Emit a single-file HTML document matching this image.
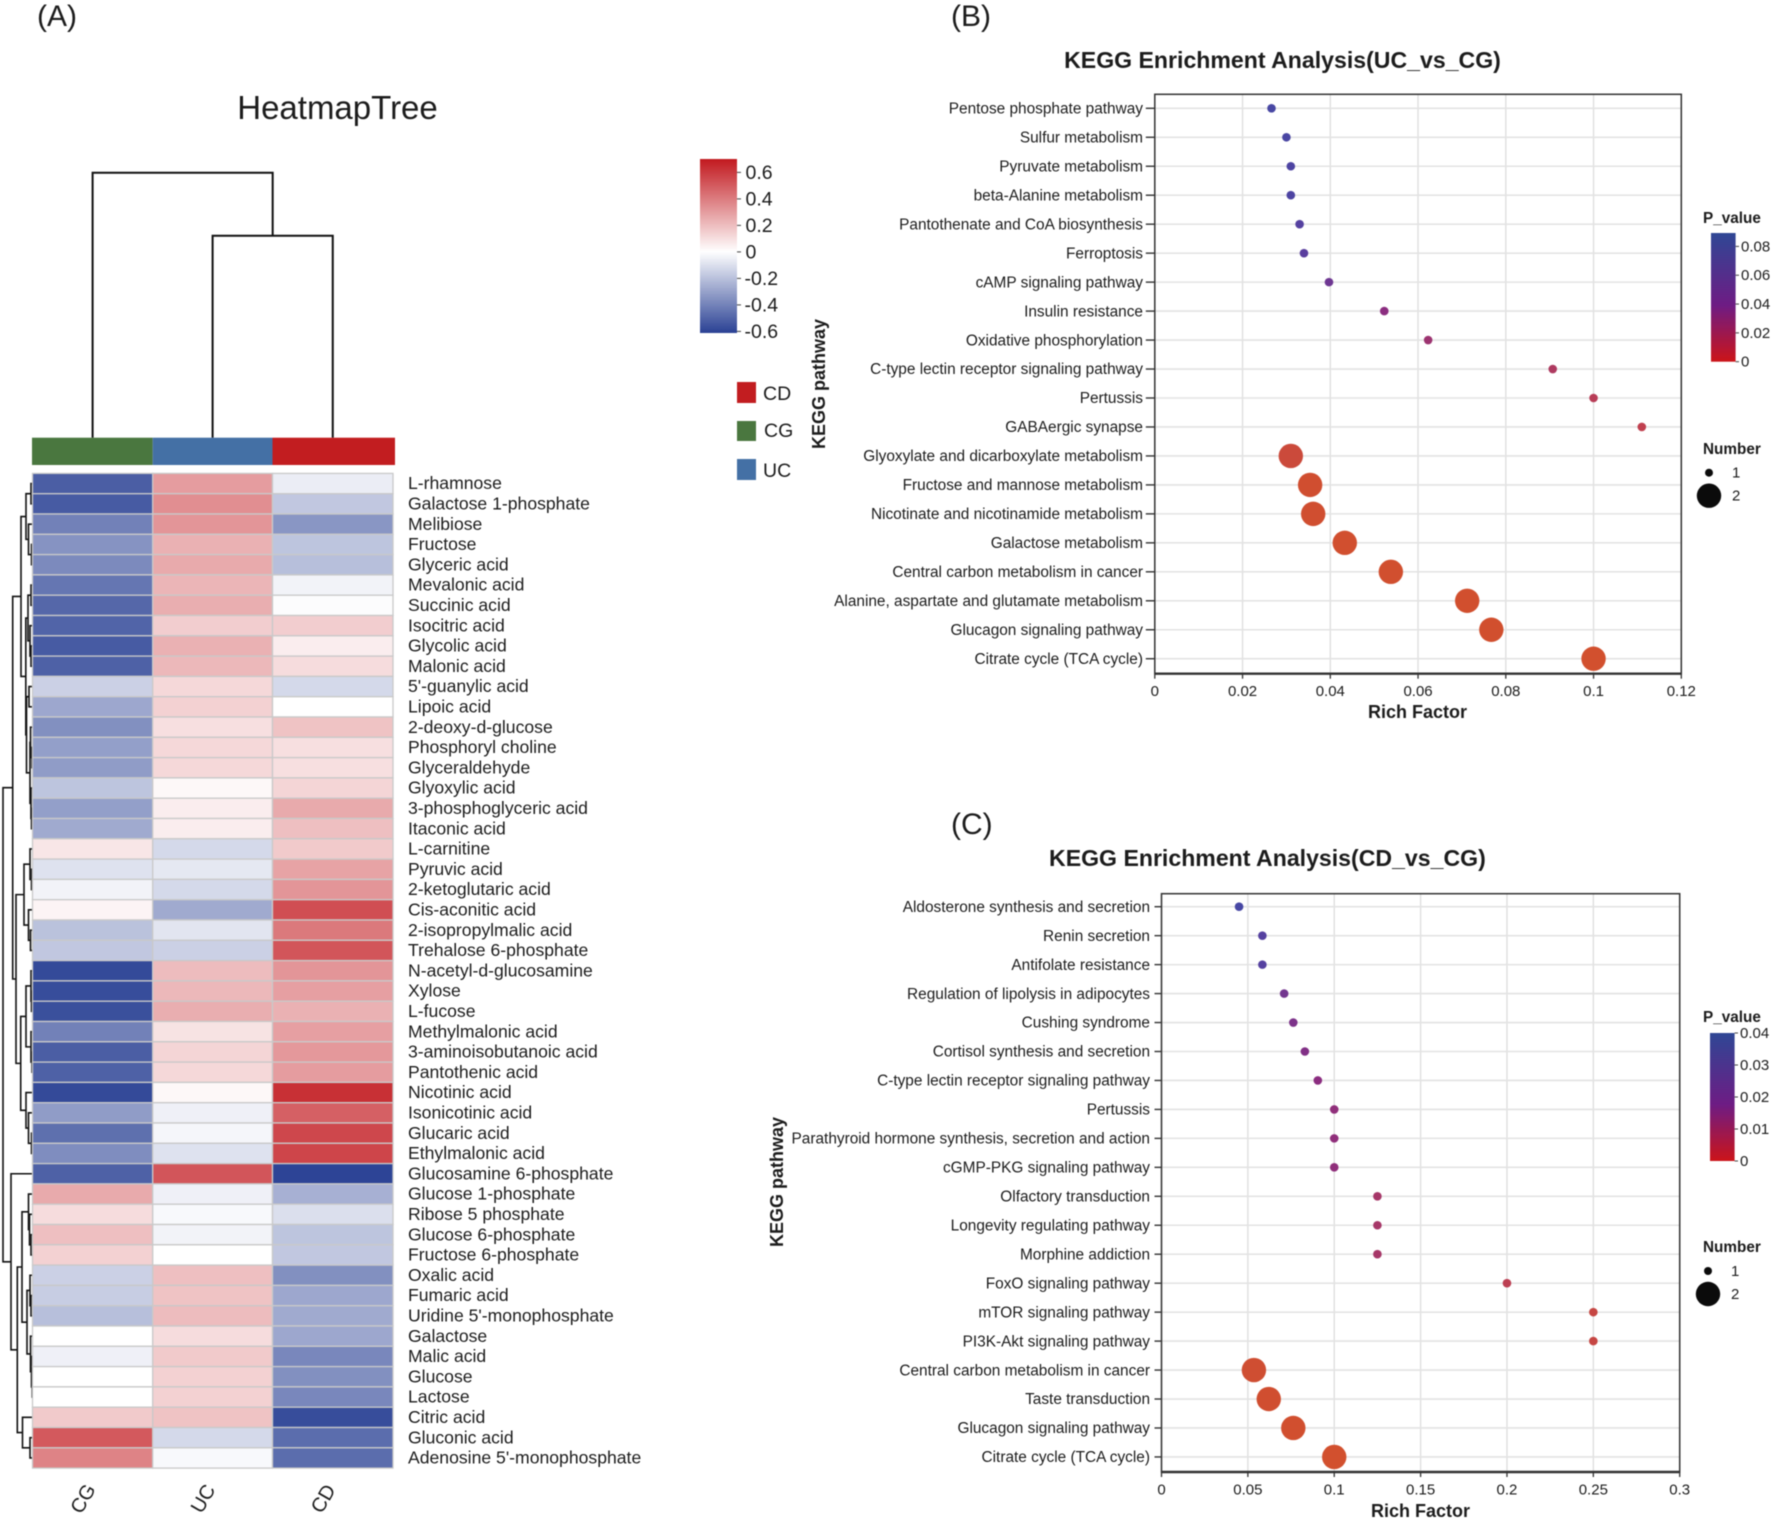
<!DOCTYPE html>
<html lang="en">
<head>
<meta charset="utf-8">
<title>Metabolite heatmap and KEGG enrichment analysis</title>
<style>
  html, body { margin: 0; padding: 0; background: #ffffff; }
  body { width: 1772px; height: 1520px; overflow: hidden; }
  svg { display: block; font-family: "Liberation Sans", Arial, sans-serif; fill: #1c1c1c; filter: blur(0.45px); }
  text { white-space: pre; }
</style>
</head>
<body>
<svg id="figure" xmlns="http://www.w3.org/2000/svg" width="1772" height="1520" viewBox="0 0 1772 1520">
  <defs>
    <linearGradient id="heat-gradient" x1="0" y1="0" x2="0" y2="1">
      <stop offset="0" stop-color="#c2191f"/>
      <stop offset="0.533" stop-color="#ffffff"/>
      <stop offset="1" stop-color="#2a4194"/>
    </linearGradient>
    <linearGradient id="p-gradient" x1="0" y1="0" x2="0" y2="1">
      <stop offset="0" stop-color="#2f4795"/>
      <stop offset="0.56" stop-color="#6e1c84"/>
      <stop offset="1" stop-color="#cc1419"/>
    </linearGradient>
  </defs>

  <text x="37" y="26" font-size="30">(A)</text>
  <text x="951" y="26" font-size="30">(B)</text>
  <text x="951" y="834" font-size="30">(C)</text>

  <text x="337.5" y="119" font-size="33" text-anchor="middle">HeatmapTree</text>
  <g id="heatmap"></g>

  <rect x="700" y="159" width="37" height="174" fill="url(#heat-gradient)"/>
  <g id="heat-colorbar-ticks"></g>

  <g font-size="19.5">
    <rect x="737" y="382" width="19" height="21" fill="#c21d20"/>
    <text x="763" y="400">CD</text>
    <rect x="737" y="421" width="19" height="20" fill="#4a773f"/>
    <text x="764" y="437">CG</text>
    <rect x="737" y="459" width="19" height="21" fill="#4470a5"/>
    <text x="763" y="477">UC</text>
  </g>

  <g id="plot-b"></g>
  <g id="plot-c"></g>
</svg>

<script>
// ---------- Panel A data ----------
const heatColumns = ["CG", "UC", "CD"];
const heatRows = ["L-rhamnose","Galactose 1-phosphate","Melibiose","Fructose","Glyceric acid","Mevalonic acid","Succinic acid","Isocitric acid","Glycolic acid","Malonic acid","5'-guanylic acid","Lipoic acid","2-deoxy-d-glucose","Phosphoryl choline","Glyceraldehyde","Glyoxylic acid","3-phosphoglyceric acid","Itaconic acid","L-carnitine","Pyruvic acid","2-ketoglutaric acid","Cis-aconitic acid","2-isopropylmalic acid","Trehalose 6-phosphate","N-acetyl-d-glucosamine","Xylose","L-fucose","Methylmalonic acid","3-aminoisobutanoic acid","Pantothenic acid","Nicotinic acid","Isonicotinic acid","Glucaric acid","Ethylmalonic acid","Glucosamine 6-phosphate","Glucose 1-phosphate","Ribose 5 phosphate","Glucose 6-phosphate","Fructose 6-phosphate","Oxalic acid","Fumaric acid","Uridine 5'-monophosphate","Galactose","Malic acid","Glucose","Lactose","Citric acid","Gluconic acid","Adenosine 5'-monophosphate"];
const valuesCG = [-0.55,-0.56,-0.43,-0.37,-0.40,-0.47,-0.52,-0.53,-0.56,-0.54,-0.16,-0.30,-0.38,-0.33,-0.34,-0.20,-0.33,-0.29,0.07,-0.10,-0.04,0.03,-0.21,-0.19,-0.62,-0.61,-0.60,-0.43,-0.55,-0.54,-0.62,-0.34,-0.49,-0.39,-0.54,0.24,0.10,0.18,0.13,-0.16,-0.17,-0.22,0,-0.05,0,0,0.15,0.47,0.35];
const valuesUC = [0.28,0.32,0.30,0.22,0.24,0.21,0.23,0.14,0.22,0.20,0.11,0.13,0.09,0.11,0.11,0.02,0.05,0.05,-0.13,-0.08,-0.13,-0.29,-0.09,-0.16,0.19,0.20,0.23,0.08,0.12,0.11,0.02,-0.05,-0.03,-0.10,0.48,-0.05,-0.02,-0.04,0,0.18,0.17,0.19,0.10,0.15,0.13,0.13,0.17,-0.13,-0.02];
const valuesCD = [-0.06,-0.19,-0.36,-0.20,-0.22,-0.04,-0.01,0.14,0.05,0.10,-0.13,0,0.17,0.09,0.09,0.12,0.24,0.18,0.15,0.26,0.30,0.50,0.38,0.48,0.30,0.27,0.22,0.27,0.29,0.28,0.585,0.45,0.52,0.525,-0.64,-0.27,-0.11,-0.20,-0.19,-0.38,-0.30,-0.29,-0.30,-0.41,-0.38,-0.41,-0.61,-0.50,-0.50];
const heatTickLabels = ["0.6","0.4","0.2","0","-0.2","-0.4","-0.6"];
const heatTickValues = [0.6,0.4,0.2,0,-0.2,-0.4,-0.6];
const groupColors = ["#4a773f","#4470a5","#c21d20"];
const columnTree = [265, 0, [202, 0, 0]];
const rowTree = [29.5,
  [19.8,
    [11.5,
      [6.5,[1.5,0,0],[4,0,[1,0,0]]],
      [6.7,
        [4.5,[1.5,0,0],[2.5,0,[1.5,0,0]]],
        [6,[3.5,0,0],[2.5,[2,0,[0.5,0,0]],[1.5,0,[1,0,0]]]]
      ]
    ],
    [16.5,
      [8.5,[2.5,0,[1,0,0]],[4,0,[2,0,0]]],
      [11.8,
        [6.5,[1.5,0,[1,0,0]],[1.5,0,[0.5,0,0]]],
        [6.5,0,[4,0,[1,0,0]]]
      ]
    ]
  ],
  [21.5,0,
    [15.2,
      [10.5,
        [4,0,[3,0,[1.5,0,0]]],
        [5.5,[2.5,0,[1.5,0,0]],[2,0,[1,0,[0.3,0,0]]]]
      ],
      [10,0,[2.5,0,0]]
    ]
  ]
];

// ---------- Panel B data ----------
const pathwaysB = ["Pentose phosphate pathway","Sulfur metabolism","Pyruvate metabolism","beta-Alanine metabolism","Pantothenate and CoA biosynthesis","Ferroptosis","cAMP signaling pathway","Insulin resistance","Oxidative phosphorylation","C-type lectin receptor signaling pathway","Pertussis","GABAergic synapse","Glyoxylate and dicarboxylate metabolism","Fructose and mannose metabolism","Nicotinate and nicotinamide metabolism","Galactose metabolism","Central carbon metabolism in cancer","Alanine, aspartate and glutamate metabolism","Glucagon signaling pathway","Citrate cycle (TCA cycle)"];
const richB = [0.0266,0.030,0.031,0.031,0.033,0.034,0.0397,0.0523,0.0623,0.0907,0.1,0.111,0.031,0.0354,0.0361,0.0433,0.0538,0.0712,0.0767,0.1];
const pValuesB = [0.082,0.080,0.078,0.078,0.0714,0.067,0.058,0.0447,0.036,0.027,0.022,0.018,0.0071,0.0018,0.0018,0.001,0.001,0.0006,0.0006,0.0004];
const numbersB = [1,1,1,1,1,1,1,1,1,1,1,1,2,2,2,2,2,2,2,2];
const xTicksB = [0,0.02,0.04,0.06,0.08,0.1,0.12];
const xTickLabelsB = ["0","0.02","0.04","0.06","0.08","0.1","0.12"];
const pTicksB = [0.08,0.06,0.04,0.02,0];
const pTickLabelsB = ["0.08","0.06","0.04","0.02","0"];

// ---------- Panel C data ----------
const pathwaysC = ["Aldosterone synthesis and secretion","Renin secretion","Antifolate resistance","Regulation of lipolysis in adipocytes","Cushing syndrome","Cortisol synthesis and secretion","C-type lectin receptor signaling pathway","Pertussis","Parathyroid hormone synthesis, secretion and action","cGMP-PKG signaling pathway","Olfactory transduction","Longevity regulating pathway","Morphine addiction","FoxO signaling pathway","mTOR signaling pathway","PI3K-Akt signaling pathway","Central carbon metabolism in cancer","Taste transduction","Glucagon signaling pathway","Citrate cycle (TCA cycle)"];
const richC = [0.0449,0.0584,0.0584,0.071,0.0763,0.083,0.0905,0.1,0.1,0.1,0.125,0.125,0.125,0.2,0.25,0.25,0.0535,0.0621,0.0763,0.1];
const pValuesC = [0.037,0.032,0.032,0.025,0.023,0.022,0.02,0.0188,0.0188,0.0188,0.014,0.014,0.014,0.0088,0.0052,0.0052,0.0012,0.0008,0.0004,0.0002];
const numbersC = [1,1,1,1,1,1,1,1,1,1,1,1,1,1,1,1,2,2,2,2];
const xTicksC = [0,0.05,0.1,0.15,0.2,0.25,0.3];
const xTickLabelsC = ["0","0.05","0.1","0.15","0.2","0.25","0.3"];
const pTicksC = [0.04,0.03,0.02,0.01,0];
const pTickLabelsC = ["0.04","0.03","0.02","0.01","0"];

// ---------- Helpers ----------
const NS = "http://www.w3.org/2000/svg";
function svgEl(tag, attrs, parent, content) {
  const el = document.createElementNS(NS, tag);
  for (const k in attrs) el.setAttribute(k, attrs[k]);
  if (content !== undefined) el.textContent = content;
  parent.appendChild(el);
  return el;
}
function slug(s) {
  return String(s).toLowerCase().replace(/[^a-z0-9]+/g, "-").replace(/^-|-$/g, "");
}
function hexRgb(h) {
  return [parseInt(h.slice(1,3),16), parseInt(h.slice(3,5),16), parseInt(h.slice(5,7),16)];
}
function mix(a, b, t) {
  const A = hexRgb(a), B = hexRgb(b);
  return "rgb(" + A.map((v, i) => Math.round(v + (B[i] - v) * t)).join(",") + ")";
}
function heatColor(v) {
  const t = Math.min(1, Math.abs(v) / 0.65);
  return mix("#ffffff", v >= 0 ? "#c2191f" : "#2a4194", t);
}
const dotStopsPos = [0, 0.2, 0.5, 0.75, 1];
const dotStopsCol = ["#d2502d", "#c0404f", "#8b2d80", "#5a3e9e", "#3f4ba6"];
function dotColor(n) {
  const c = Math.max(0, Math.min(1, n));
  for (let i = 1; i < dotStopsPos.length; i++) {
    if (c <= dotStopsPos[i]) {
      return mix(dotStopsCol[i-1], dotStopsCol[i], (c - dotStopsPos[i-1]) / (dotStopsPos[i] - dotStopsPos[i-1]));
    }
  }
  return dotStopsCol[dotStopsCol.length - 1];
}

// ---------- Panel A ----------
const heatG = document.getElementById("heatmap");
const heatTop = 473.4, rowH = 20.3;
const colEdges = [32.5, 152.7, 272.5, 393];
const heatValues = [valuesCG, valuesUC, valuesCD];
const colX = i => (colEdges[i] + colEdges[i + 1]) / 2;
const rowY = i => heatTop + rowH * (i + 0.5);

// column dendrogram
const colBase = 437.7;
function drawColTree(node, counter, g) {
  if (!Array.isArray(node)) { const i = counter.i++; return { x: colX(i), y: colBase }; }
  const a = drawColTree(node[1], counter, g), b = drawColTree(node[2], counter, g);
  const y = colBase - node[0];
  const branch = svgEl("path", { d: `M${a.x} ${a.y}V${y}H${b.x}V${b.y}`, fill: "none", stroke: "#111", "stroke-width": 2 }, g);
  
  
  return { x: (a.x + b.x) / 2, y: y };
}
const colTreeG = svgEl("g", {}, heatG);


drawColTree(columnTree, { i: 0 }, colTreeG);

// annotation bar
const annEdges = [32, 152.7, 272.5, 395];
heatColumns.forEach((name, i) => {
  const ann = svgEl("rect", { x: annEdges[i], y: 437.7, width: annEdges[i + 1] - annEdges[i], height: 27.3, fill: groupColors[i] }, heatG);
  
  
});

// row dendrogram
const treeLeafX = 32.5;
function drawRowTree(node, counter, g) {
  if (!Array.isArray(node)) { const i = counter.i++; return { x: treeLeafX, y: rowY(i) }; }
  const a = drawRowTree(node[1], counter, g), b = drawRowTree(node[2], counter, g);
  const x = treeLeafX - node[0];
  const branch = svgEl("path", { d: `M${a.x} ${a.y}H${x}V${b.y}H${b.x}`, fill: "none", stroke: "#111", "stroke-width": 1.6 }, g);
  
  
  return { x: x, y: (a.y + b.y) / 2 };
}
const rowTreeG = svgEl("g", {}, heatG);


drawRowTree(rowTree, { i: 0 }, rowTreeG);

// cells and labels
heatRows.forEach((label, r) => {
  heatColumns.forEach((col, c) => {
    const cell = svgEl("rect", {
      x: colEdges[c], y: heatTop + rowH * r, width: colEdges[c + 1] - colEdges[c], height: rowH,
      fill: heatColor(heatValues[c][r]), stroke: "#c9c9c9", "stroke-width": 1.3
    }, heatG);
    
    
  });
  const t = svgEl("text", { x: 408, y: rowY(r) + 5.6, "font-size": 17.6 }, heatG, label);
  
  
});
heatColumns.forEach((col, c) => {
  const cx = colX(c) - 9, cy = 1499;
  const t = svgEl("text", { x: cx, y: cy, "font-size": 20, "text-anchor": "middle", "dominant-baseline": "central", transform: `rotate(-60 ${cx} ${cy})` }, heatG, col);
  
  
});

// heat colorbar ticks
const heatTickG = document.getElementById("heat-colorbar-ticks");
const heatScaleY = v => 251.9 - v * 132.5;
heatTickValues.forEach((v, i) => {
  const y = heatScaleY(v);
  const tick = svgEl("line", { x1: 737, x2: 741, y1: y, y2: y, stroke: "#444", "stroke-width": 1 }, heatTickG);
  
  
  const t = svgEl("text", { x: v < 0 ? 744.5 : 745.5, y: y + 6.5, "font-size": 19.5 }, heatTickG, heatTickLabels[i]);
  
  
});

// ---------- Bubble plots ----------
function drawBubble(cfg) {
  const g = document.getElementById(cfg.id);
  const xs = v => cfg.left + (v / cfg.xMax) * (cfg.right - cfg.left);
  const ys = i => cfg.firstY + i * cfg.stepY;

  const title = svgEl("text", { x: cfg.titleX, y: cfg.titleY, "font-size": 23.1, "font-weight": "bold", "text-anchor": "middle" }, g, cfg.title);
  
  

  cfg.xTicks.forEach((v, i) => {
    const grid = svgEl("line", { x1: xs(v), x2: xs(v), y1: cfg.top, y2: cfg.bottom, stroke: "#dfdfdf", "stroke-width": 1.4 }, g);
    
    
  });
  cfg.pathways.forEach((name, i) => {
    const grid = svgEl("line", { x1: cfg.left, x2: cfg.right, y1: ys(i), y2: ys(i), stroke: "#e3e3e3", "stroke-width": 1.6 }, g);
    
    
    const tick = svgEl("line", { x1: cfg.left - cfg.tickLen, x2: cfg.left, y1: ys(i), y2: ys(i), stroke: "#333", "stroke-width": 1.4 }, g);
    
    
    const label = svgEl("text", { x: cfg.labelX, y: ys(i) + 5.2, "font-size": 15.4, "text-anchor": "end" }, g, name);
    
    
  });

  const frame = svgEl("rect", { x: cfg.left, y: cfg.top, width: cfg.right - cfg.left, height: cfg.bottom - cfg.top, fill: "none", stroke: "#333", "stroke-width": 1.5 }, g);
  
  
  const axis = svgEl("line", { x1: cfg.left, x2: cfg.right, y1: cfg.bottom, y2: cfg.bottom, stroke: "#333", "stroke-width": 2.4 }, g);
  
  

  cfg.xTicks.forEach((v, i) => {
    const tick = svgEl("line", { x1: xs(v), x2: xs(v), y1: cfg.bottom, y2: cfg.bottom + 5, stroke: "#333", "stroke-width": 1.3 }, g);
    
    
    const label = svgEl("text", { x: xs(v), y: cfg.xLabelY, "font-size": 15, "text-anchor": "middle" }, g, cfg.xTickLabels[i]);
    
    
  });

  cfg.pathways.forEach((name, i) => {
    const big = cfg.numbers[i] >= 2;
    const dot = svgEl("circle", {
      cx: xs(cfg.rich[i]), cy: ys(i), r: big ? 12.2 : 4.3,
      fill: dotColor(cfg.pValues[i] / cfg.pMax)
    }, g);
    
    
  });

  const xTitle = svgEl("text", { x: cfg.xTitleX, y: cfg.xTitleY, "font-size": 18, "font-weight": "bold", "text-anchor": "middle" }, g, "Rich Factor");
  
  
  const yTitle = svgEl("text", { x: cfg.yTitleX, y: cfg.yTitleY, "font-size": 18, "font-weight": "bold", "text-anchor": "middle", transform: `rotate(-90 ${cfg.yTitleX} ${cfg.yTitleY})` }, g, "KEGG pathway");
  
  

  // p-value legend
  const pTitle = svgEl("text", { x: cfg.legendX, y: cfg.pTitleY, "font-size": 15.3, "font-weight": "bold" }, g, "P_value");
  
  
  const bar = svgEl("rect", { x: cfg.barX, y: cfg.barTop, width: 24.6, height: cfg.barBottom - cfg.barTop, fill: "url(#p-gradient)" }, g);
  
  
  cfg.pTicks.forEach((v, i) => {
    const y = cfg.barBottom - (v / cfg.pMax) * (cfg.barBottom - cfg.barTop);
    const tick = svgEl("line", { x1: cfg.barX + 24.6, x2: cfg.barX + 28, y1: y, y2: y, stroke: "#444", "stroke-width": 1 }, g);
    
    
    const label = svgEl("text", { x: cfg.barX + 30, y: y + 5, "font-size": 15 }, g, cfg.pTickLabels[i]);
    
    
  });

  // number legend
  const nTitle = svgEl("text", { x: cfg.legendX, y: cfg.numTitleY, "font-size": 15.3, "font-weight": "bold" }, g, "Number");
  
  
  [1, 2].forEach((n, i) => {
    const cy = cfg.numY + i * 23;
    const dot = svgEl("circle", { cx: cfg.numX, cy: cy, r: n === 1 ? 4 : 12.2, fill: "#0b0b0b" }, g);
    
    
    const label = svgEl("text", { x: cfg.numX + 23, y: cy + 5, "font-size": 15 }, g, String(n));
    
    
  });
}

drawBubble({
  id: "plot-b", title: "KEGG Enrichment Analysis(UC_vs_CG)", titleX: 1282.5, titleY: 68,
  left: 1154.8, right: 1681.3, top: 94.3, bottom: 673.7, xMax: 0.12,
  firstY: 108.3, stepY: 28.97, tickLen: 9, labelX: 1143,
  pathways: pathwaysB, rich: richB, pValues: pValuesB, numbers: numbersB, pMax: 0.0893,
  xTicks: xTicksB, xTickLabels: xTickLabelsB, xLabelY: 696,
  xTitleX: 1417.5, xTitleY: 718, yTitleX: 825, yTitleY: 384,
  legendX: 1703, pTitleY: 223, barX: 1711, barTop: 233, barBottom: 361.7,
  pTicks: pTicksB, pTickLabels: pTickLabelsB,
  numTitleY: 454, numX: 1709, numY: 472.7
});
drawBubble({
  id: "plot-c", title: "KEGG Enrichment Analysis(CD_vs_CG)", titleX: 1267.4, titleY: 866,
  left: 1161.5, right: 1679.7, top: 893.7, bottom: 1472, xMax: 0.3,
  firstY: 906.7, stepY: 28.96, tickLen: 7, labelX: 1150,
  pathways: pathwaysC, rich: richC, pValues: pValuesC, numbers: numbersC, pMax: 0.04,
  xTicks: xTicksC, xTickLabels: xTickLabelsC, xLabelY: 1494.5,
  xTitleX: 1420.5, xTitleY: 1517, yTitleX: 783, yTitleY: 1182,
  legendX: 1703, pTitleY: 1022, barX: 1710, barTop: 1033, barBottom: 1161,
  pTicks: pTicksC, pTickLabels: pTickLabelsC,
  numTitleY: 1252, numX: 1708, numY: 1271
});
</script>
</body>
</html>
